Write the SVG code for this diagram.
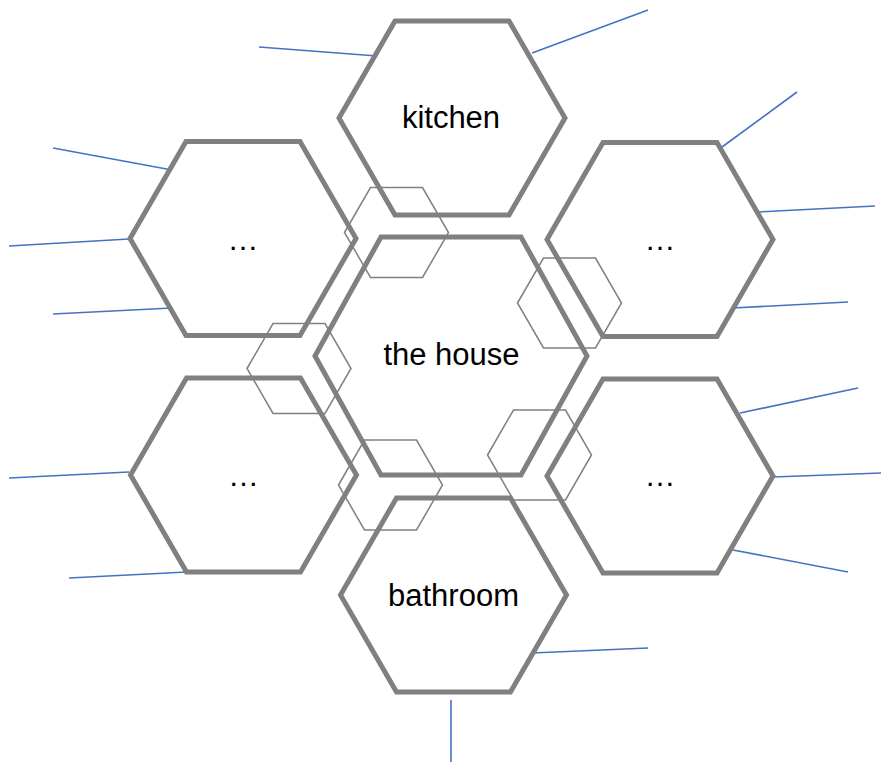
<svg xmlns="http://www.w3.org/2000/svg" xmlns:xlink="http://www.w3.org/1999/xlink" width="881" height="762" viewBox="0 0 881 762">
<style>
.big{fill:none;stroke:#808080;stroke-width:5;stroke-linejoin:miter}
.small{fill:none;stroke:#808080;stroke-width:1.5}
.conn line{stroke:#4472C4;stroke-width:1.6}
.lbl{font-family:"Liberation Sans",Arial,sans-serif;font-size:31px;fill:#000;text-anchor:middle}
</style>
<defs>
<polygon id="bigHex" points="-113,0 -57,-97 57,-97 113,0 57,97 -57,97"/>
<polygon id="centerHex" points="-136,0 -70,-119 70,-119 136,0 70,119 -70,119"/>
<polygon id="smallHex" points="-52,0 -26,-45 26,-45 52,0 26,45 -26,45"/>
</defs>
<rect width="881" height="762" fill="#fff"/>
<g id="connectors" class="conn">
<line x1="259" y1="47" x2="377" y2="56"/>
<line x1="532" y1="53" x2="648" y2="10"/>
<line x1="53" y1="148" x2="172" y2="170"/>
<line x1="9" y1="246" x2="129" y2="239"/>
<line x1="53" y1="314" x2="172" y2="308"/>
<line x1="722" y1="147" x2="797" y2="92"/>
<line x1="758" y1="212" x2="875" y2="206"/>
<line x1="732" y1="308" x2="848" y2="302"/>
<line x1="9" y1="478" x2="129" y2="472"/>
<line x1="69" y1="578" x2="187" y2="572"/>
<line x1="740" y1="413" x2="858" y2="388"/>
<line x1="773" y1="477" x2="881" y2="473"/>
<line x1="733" y1="550" x2="848" y2="572"/>
<line x1="532" y1="653" x2="648" y2="648"/>
<line x1="451" y1="700" x2="451" y2="762"/>
</g>
<g id="kitchen">
<use xlink:href="#bigHex" href="#bigHex" class="big" x="452" y="118"/>
<text class="lbl" x="451" y="128">kitchen</text>
</g>
<g id="room-top-left">
<use xlink:href="#bigHex" href="#bigHex" class="big" x="243" y="238.5"/>
<text class="lbl" x="243" y="250">…</text>
</g>
<g id="room-top-right">
<use xlink:href="#bigHex" href="#bigHex" class="big" x="660" y="239.5"/>
<text class="lbl" x="660" y="250">…</text>
</g>
<g id="room-bottom-left">
<use xlink:href="#bigHex" href="#bigHex" class="big" x="243.5" y="475"/>
<text class="lbl" x="243.5" y="486">…</text>
</g>
<g id="room-bottom-right">
<use xlink:href="#bigHex" href="#bigHex" class="big" x="660" y="476"/>
<text class="lbl" x="660" y="486">…</text>
</g>
<g id="bathroom">
<use xlink:href="#bigHex" href="#bigHex" class="big" x="453.5" y="595"/>
<text class="lbl" x="453.5" y="606">bathroom</text>
</g>
<g id="the-house">
<use xlink:href="#centerHex" href="#centerHex" class="big" x="451" y="356"/>
<text class="lbl" x="451.5" y="365">the house</text>
</g>
<g id="link-top">
<use xlink:href="#smallHex" href="#smallHex" class="small" x="396.5" y="232.5"/>
</g>
<g id="link-right">
<use xlink:href="#smallHex" href="#smallHex" class="small" x="569.5" y="303"/>
</g>
<g id="link-left">
<use xlink:href="#smallHex" href="#smallHex" class="small" x="299" y="368.5"/>
</g>
<g id="link-bottom-left">
<use xlink:href="#smallHex" href="#smallHex" class="small" x="390.5" y="485"/>
</g>
<g id="link-bottom-right">
<use xlink:href="#smallHex" href="#smallHex" class="small" x="539.5" y="455"/>
</g>
</svg>
